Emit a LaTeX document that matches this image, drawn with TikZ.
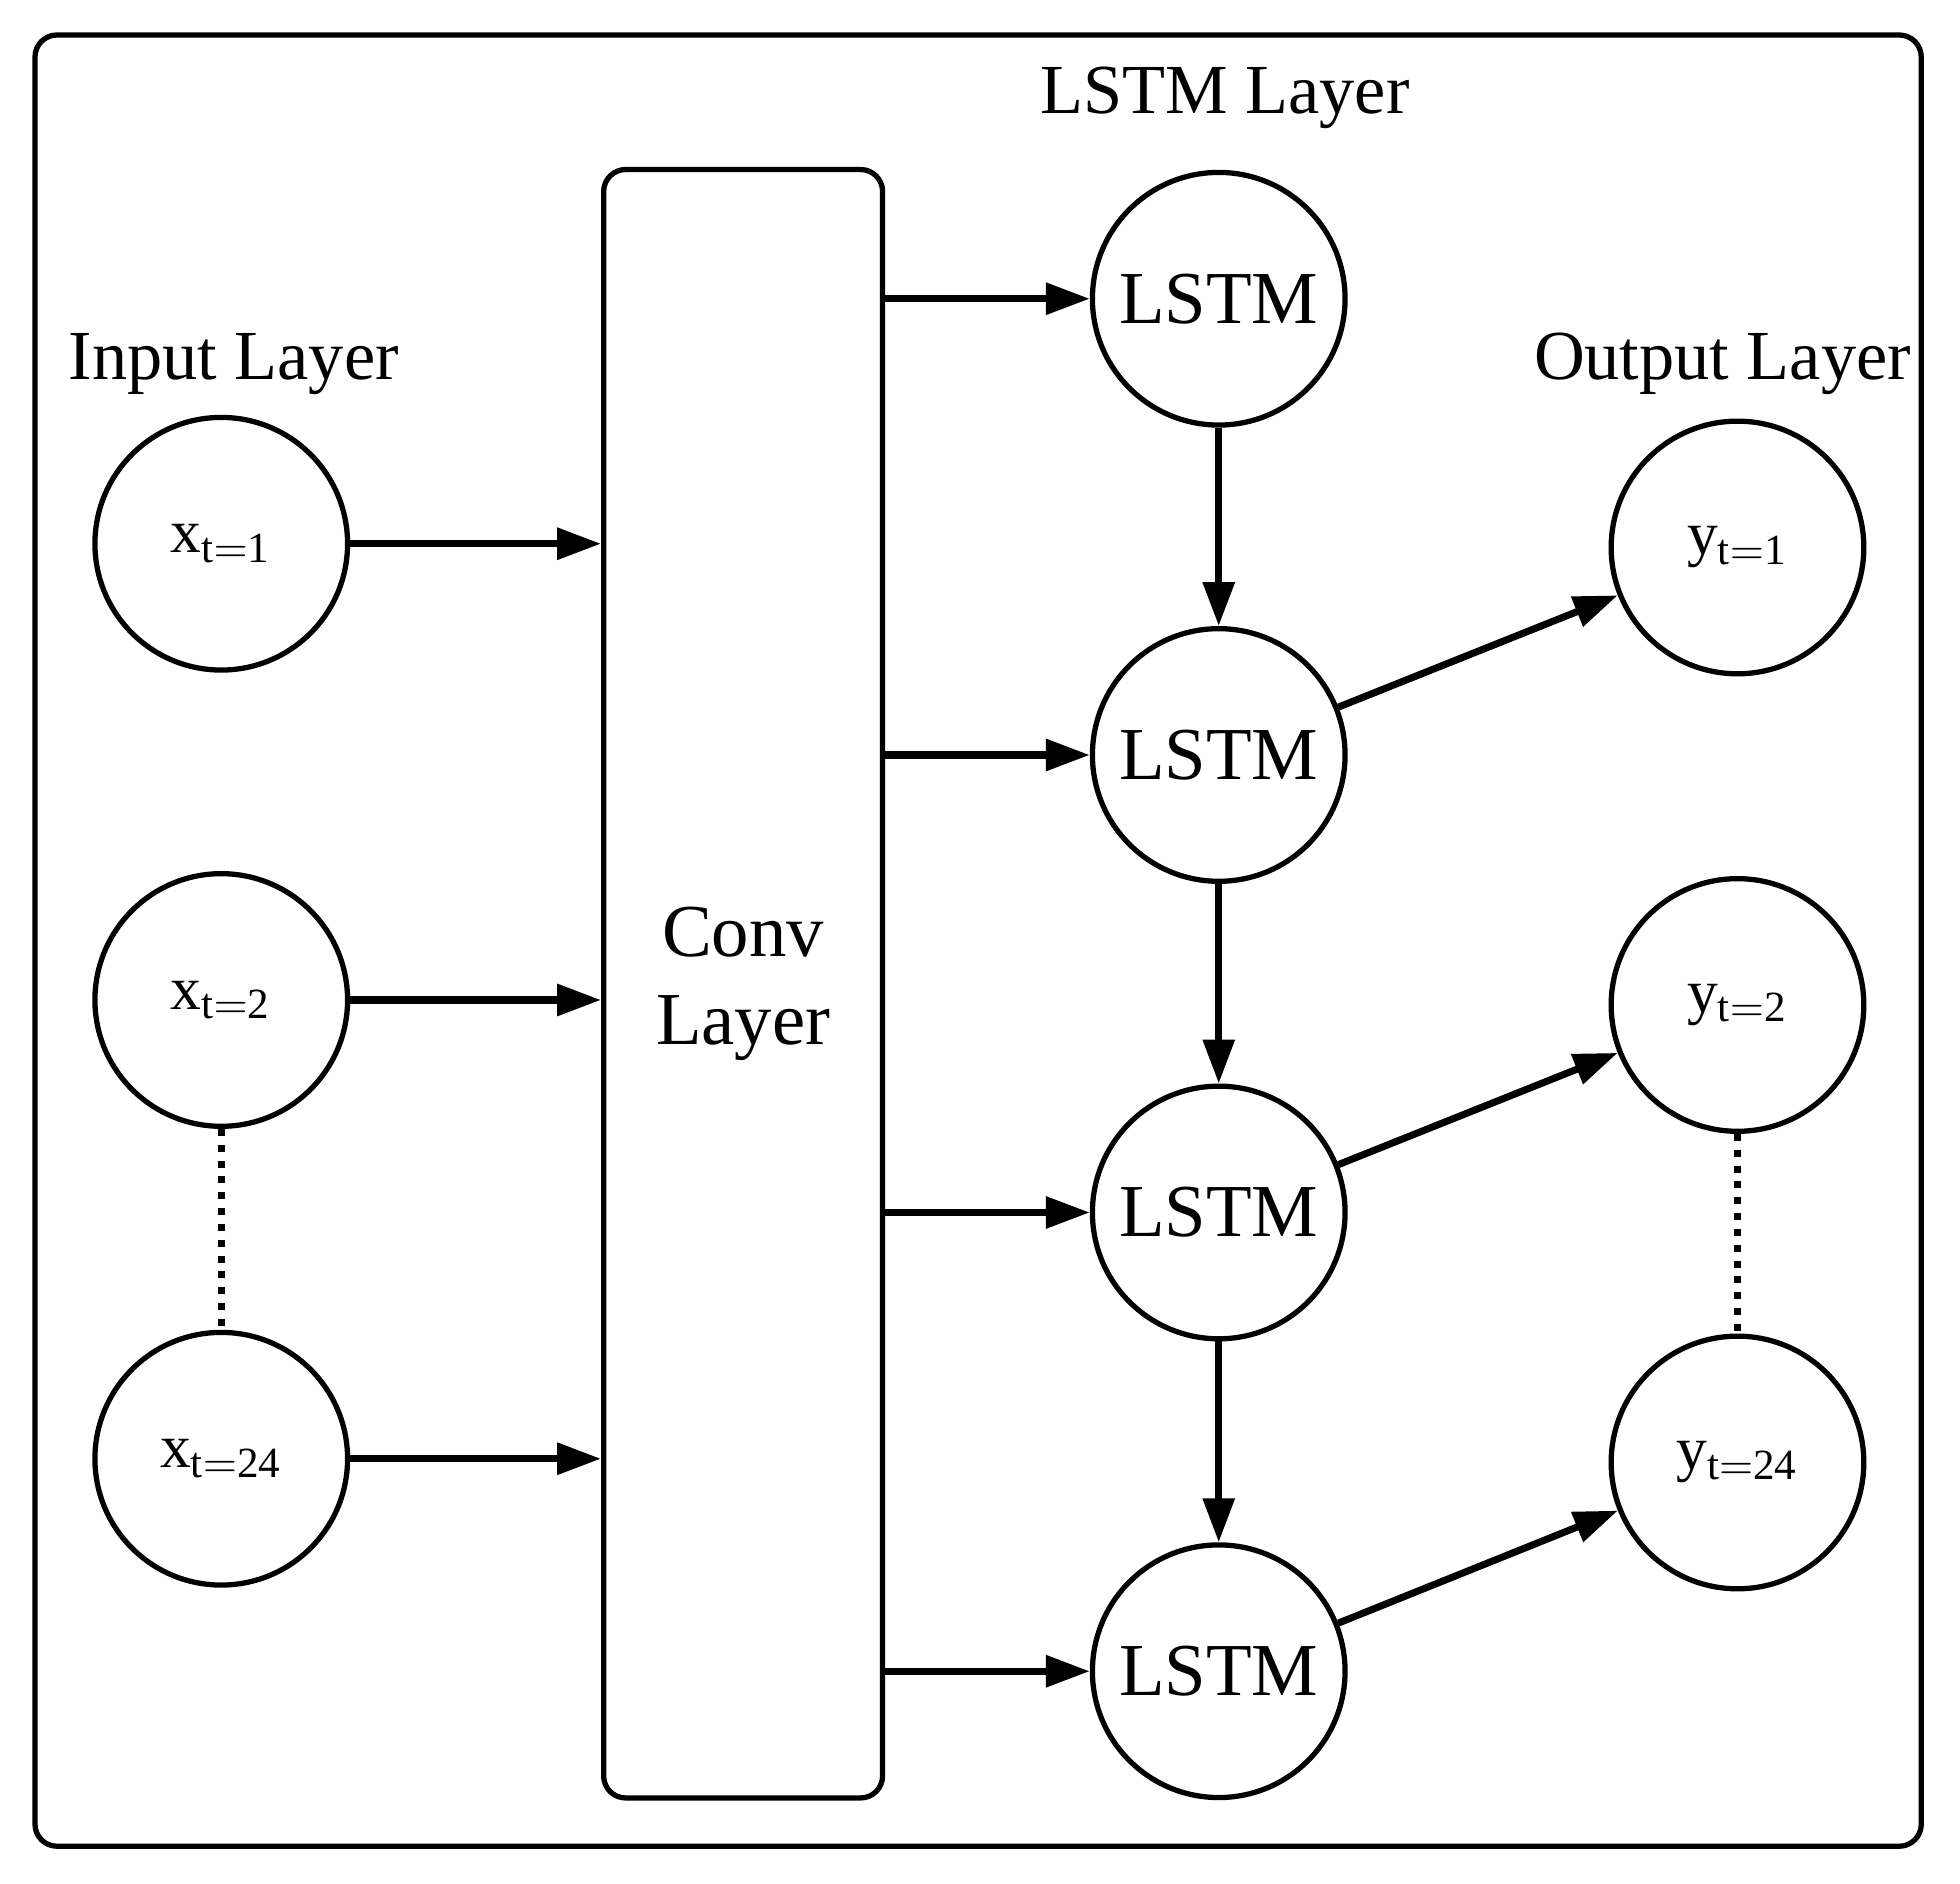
\documentclass[tikz,border=0pt]{standalone}
\usepackage{fontspec}
\setmainfont{Liberation Serif}
\usetikzlibrary{arrows.meta}
\begin{document}
\begin{tikzpicture}[x=0.01cm,y=-0.01cm,
  circ/.style={circle,draw,line width=1.2pt,minimum size=2.02cm,inner sep=0pt},
  lstm/.style={circ,font=\fontsize{17}{20}\selectfont},
  io/.style={circ,font=\fontsize{14}{16}\selectfont},
  lab/.style={font=\fontsize{16}{19}\selectfont},
  arr/.style={-{Triangle[length=10pt,width=7pt]},line width=1.6pt},
  dots/.style={dotted,line width=1.6pt}]
\useasboundingbox (0,0) rectangle (1568,1507);
\draw[line width=1.2pt,rounded corners=5pt] (28,28) rectangle (1537,1477);
\node[draw,line width=1.2pt,rounded corners=5pt,minimum width=2.23cm,minimum height=13.02cm,inner sep=0pt,
  align=center,font=\fontsize{17}{20}\selectfont] (conv) at (594.5,787) {Conv\\Layer};
\node[lab] (tl) at (980,78) {LSTM Layer};
\node[lab] (il) at (187,291) {Input Layer};
\node[lab] (ol) at (1378,291) {Output Layer};
\foreach \i/\y in {1/239,2/604,3/970,4/1337} \node[lstm] (l\i) at (975,\y) {LSTM};
\node[io] (x1) at (177,435) {x$_{\mathrm{t=1}}$};
\node[io] (x2) at (177,800) {x$_{\mathrm{t=2}}$};
\node[io] (x3) at (177,1167) {x$_{\mathrm{t=24}}$};
\node[io] (y1) at (1390,438) {y$_{\mathrm{t=1}}$};
\node[io] (y2) at (1390,804) {y$_{\mathrm{t=2}}$};
\node[io] (y3) at (1390,1170) {y$_{\mathrm{t=24}}$};
\foreach \n in {x1,x2,x3} \draw[arr] (\n.east) -- (\n.east -| conv.west);
\foreach \n in {l1,l2,l3,l4} \draw[arr] (\n.west -| conv.east) -- (\n.west);
\draw[arr] (l1) -- (l2);
\draw[arr] (l2) -- (l3);
\draw[arr] (l3) -- (l4);
\draw[arr] (l2) -- (y1);
\draw[arr] (l3) -- (y2);
\draw[arr] (l4) -- (y3);
\draw[dots] (x2.south) -- (x3.north);
\draw[dots] (y2.south) -- (y3.north);
\end{tikzpicture}
\end{document}
